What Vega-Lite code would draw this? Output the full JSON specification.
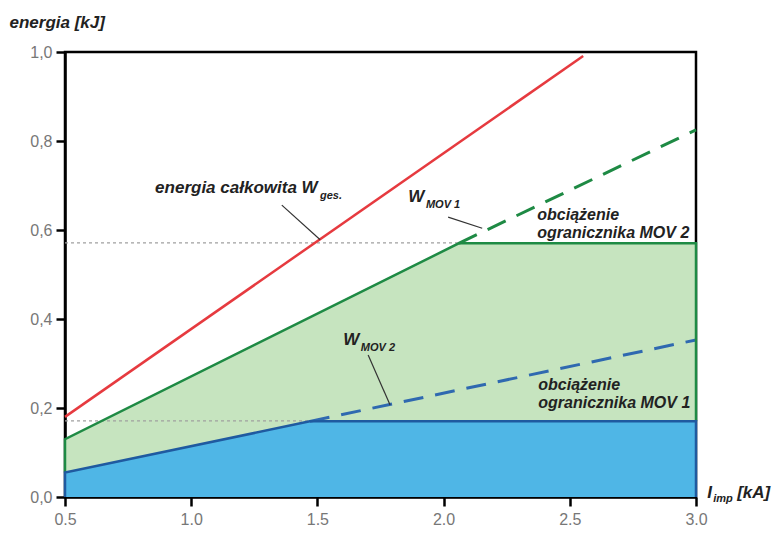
{
  "$schema": "https://vega.github.io/schema/vega-lite/v6.json",
  "width": 631,
  "height": 445,
  "autosize": {"type": "none"},
  "padding": {"left": 65, "top": 52, "right": 83, "bottom": 40},
  "background": "white",
  "config": {
    "view": {"stroke": "black", "strokeWidth": 2.5},
    "font": "Liberation Sans"
  },
  "datasets": {
    "red": [{"x": 0.5, "y": 0.18}, {"x": 2.553, "y": 0.991}],
    "greenArea": [{"x": 0.5, "y": 0.13}, {"x": 2.06, "y": 0.57}, {"x": 3.0, "y": 0.57}],
    "blueArea": [{"x": 0.5, "y": 0.055}, {"x": 1.47, "y": 0.17}, {"x": 3.0, "y": 0.17}],
    "greenLine": [{"o": 1, "x": 0.5, "y": 0.055}, {"o": 2, "x": 0.5, "y": 0.13}, {"o": 3, "x": 2.06, "y": 0.57}, {"o": 4, "x": 3.0, "y": 0.57}, {"o": 5, "x": 3.0, "y": 0.17}],
    "blueLine": [{"o": 1, "x": 0.5, "y": 0.0}, {"o": 2, "x": 0.5, "y": 0.055}, {"o": 3, "x": 1.47, "y": 0.17}, {"o": 4, "x": 3.0, "y": 0.17}, {"o": 5, "x": 3.0, "y": 0.0}],
    "greenDash": [{"x": 2.06, "y": 0.57}, {"x": 3.0, "y": 0.825}],
    "blueDash": [{"x": 1.47, "y": 0.17}, {"x": 3.0, "y": 0.353}],
    "refs": [{"x": 0.5, "x2": 2.06, "y": 0.571}, {"x": 0.5, "x2": 1.47, "y": 0.171}],
    "leaders": [
      {"x": 1.359, "y": 0.656, "x2": 1.511, "y2": 0.578},
      {"x": 2.018, "y": 0.629, "x2": 2.153, "y2": 0.604},
      {"x": 1.701, "y": 0.319, "x2": 1.788, "y2": 0.207}
    ],
    "mainText": [
      {"x": 0.857, "y": 0.694, "t": "energia całkowita W"},
      {"x": 1.86, "y": 0.674, "t": "W"},
      {"x": 1.602, "y": 0.353, "t": "W"},
      {"x": 3.045, "y": 0.01, "t": "I"},
      {"x": 3.163, "y": 0.01, "t": "[kA]"}
    ],
    "noteText": [
      {"x": 2.371, "y": 0.634, "t": "obciążenie"},
      {"x": 2.371, "y": 0.593, "t": "ogranicznika MOV 2"},
      {"x": 2.375, "y": 0.252, "t": "obciążenie"},
      {"x": 2.375, "y": 0.211, "t": "ogranicznika MOV 1"}
    ],
    "subText": [
      {"x": 1.51, "y": 0.676, "t": "ges."},
      {"x": 1.93, "y": 0.656, "t": "MOV 1"},
      {"x": 1.672, "y": 0.335, "t": "MOV 2"},
      {"x": 3.068, "y": -0.004, "t": "imp"}
    ]
  },
  "layer": [
    {
      "data": {"name": "greenArea"},
      "mark": {"type": "area", "color": "#c6e4bf", "opacity": 1},
      "encoding": {
        "x": {"field": "x", "type": "quantitative", "scale": {"domain": [0.5, 3.0], "nice": false, "zero": false},
          "axis": {"values": [0.5, 1.0, 1.5, 2.0, 2.5, 3.0], "format": ".1f", "title": null, "grid": false, "labelFlush": false,
            "domainColor": "black", "domainWidth": 2.5, "tickColor": "black", "tickWidth": 2.5, "tickSize": 9,
            "labelColor": "#777", "labelFontSize": 16, "labelPadding": 5, "labelFont": "Liberation Sans"}},
        "y": {"field": "y", "type": "quantitative", "scale": {"domain": [0, 1], "nice": false, "zero": false},
          "axis": {"values": [0, 0.2, 0.4, 0.6, 0.8, 1.0], "labelExpr": "replace(format(datum.value, '.1f'), '.', ',')", "labelFlush": false,
            "title": "energia [kJ]", "titleAngle": 0, "titleAlign": "left", "titleBaseline": "alphabetic",
            "titleX": -56, "titleY": -25, "titleFontSize": 17, "titleFontStyle": "italic", "titleFontWeight": "bold", "titleColor": "#222",
            "grid": false, "domainColor": "black", "domainWidth": 2.5, "tickColor": "black", "tickWidth": 2.5, "tickSize": 9,
            "labelColor": "#777", "labelFontSize": 16, "labelPadding": 4, "labelFont": "Liberation Sans"}},
        "y2": {"datum": 0}
      }
    },
    {
      "data": {"name": "blueArea"},
      "mark": {"type": "area", "color": "#4fb6e6", "opacity": 1},
      "encoding": {
        "x": {"field": "x", "type": "quantitative"},
        "y": {"field": "y", "type": "quantitative"},
        "y2": {"datum": 0}
      }
    },
    {
      "data": {"name": "refs"},
      "mark": {"type": "rule", "color": "#a0a0a0", "strokeWidth": 1.2, "strokeDash": [3, 3]},
      "encoding": {
        "x": {"field": "x", "type": "quantitative"},
        "x2": {"field": "x2"},
        "y": {"field": "y", "type": "quantitative"}
      }
    },
    {
      "data": {"name": "greenDash"},
      "mark": {"type": "line", "color": "#1e8a44", "strokeWidth": 3, "strokeDash": [20, 12]},
      "encoding": {
        "x": {"field": "x", "type": "quantitative"},
        "y": {"field": "y", "type": "quantitative"}
      }
    },
    {
      "data": {"name": "blueDash"},
      "mark": {"type": "line", "color": "#2f69b0", "strokeWidth": 3, "strokeDash": [20, 12]},
      "encoding": {
        "x": {"field": "x", "type": "quantitative"},
        "y": {"field": "y", "type": "quantitative"}
      }
    },
    {
      "data": {"name": "greenLine"},
      "mark": {"type": "line", "color": "#1e8a44", "strokeWidth": 2.5},
      "encoding": {
        "x": {"field": "x", "type": "quantitative"},
        "y": {"field": "y", "type": "quantitative"},
        "order": {"field": "o"}
      }
    },
    {
      "data": {"name": "blueLine"},
      "mark": {"type": "line", "color": "#1f5aa0", "strokeWidth": 2.5},
      "encoding": {
        "x": {"field": "x", "type": "quantitative"},
        "y": {"field": "y", "type": "quantitative"},
        "order": {"field": "o"}
      }
    },
    {
      "data": {"name": "red"},
      "mark": {"type": "line", "color": "#e63a3f", "strokeWidth": 2.5},
      "encoding": {
        "x": {"field": "x", "type": "quantitative"},
        "y": {"field": "y", "type": "quantitative"}
      }
    },
    {
      "data": {"name": "leaders"},
      "mark": {"type": "rule", "color": "#333", "strokeWidth": 1.2},
      "encoding": {
        "x": {"field": "x", "type": "quantitative"},
        "y": {"field": "y", "type": "quantitative"},
        "x2": {"field": "x2"},
        "y2": {"field": "y2"}
      }
    },
    {
      "data": {"name": "mainText"},
      "mark": {"type": "text", "align": "left", "baseline": "middle", "fontSize": 17, "fontStyle": "italic", "fontWeight": "bold", "color": "#222", "clip": false},
      "encoding": {
        "x": {"field": "x", "type": "quantitative"},
        "y": {"field": "y", "type": "quantitative"},
        "text": {"field": "t"}
      }
    },
    {
      "data": {"name": "noteText"},
      "mark": {"type": "text", "align": "left", "baseline": "middle", "fontSize": 16, "fontStyle": "italic", "fontWeight": "bold", "color": "#222", "clip": false},
      "encoding": {
        "x": {"field": "x", "type": "quantitative"},
        "y": {"field": "y", "type": "quantitative"},
        "text": {"field": "t"}
      }
    },
    {
      "data": {"name": "subText"},
      "mark": {"type": "text", "align": "left", "baseline": "middle", "fontSize": 11, "fontStyle": "italic", "fontWeight": "bold", "color": "#222", "clip": false},
      "encoding": {
        "x": {"field": "x", "type": "quantitative"},
        "y": {"field": "y", "type": "quantitative"},
        "text": {"field": "t"}
      }
    }
  ]
}
